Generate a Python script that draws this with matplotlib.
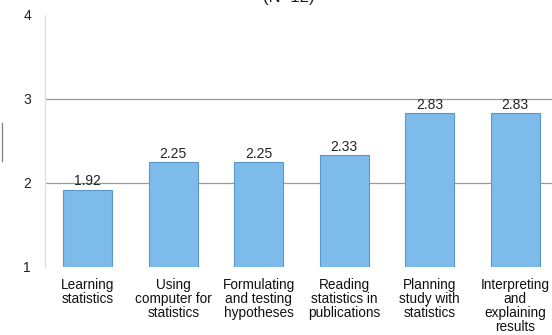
import matplotlib
matplotlib.use('Agg')
from matplotlib import pyplot as plt
from matplotlib.lines import Line2D

# ---------------------------- Data ----------------------------
categories = ['Learning\nstatistics',
              'Using\ncomputer for\nstatistics',
              'Formulating\nand testing\nhypotheses',
              'Reading\nstatistics in\npublications',
              'Planning\nstudy with\nstatistics',
              'Interpreting\nand\nexplaining\nresults']
means = [1.92, 2.25, 2.25, 2.33, 2.83, 2.83]
value_labels = ['1.92', '2.25', '2.25', '2.33', '2.83', '2.83']
yticks = [1, 2, 3, 4]
title = '(N=12)'
# ---------------------------------------------------------------

plt.rcParams['font.family'] = ['Liberation Sans', 'DejaVu Sans']

fig = plt.figure(figsize=(5.52, 3.35), dpi=100)
ax = fig.add_axes([45 / 552, 68 / 335, 513 / 552, 252 / 335])

x = list(range(len(categories)))
ax.bar(x, means, width=0.57, bottom=0, color='#7dbbea', edgecolor='#5b97c8', linewidth=0.8, zorder=3)

for xi, m, lab in zip(x, means, value_labels):
    ax.text(xi, m + 0.015, lab, ha='center', va='bottom', fontsize=10, color='#222222', zorder=4)

ax.set_ylim(1, 4)
ax.set_xlim(-0.5, len(categories) - 0.5)
ax.set_yticks(yticks)
ax.set_yticklabels([str(t) for t in yticks], fontsize=10, color='#222222')
ax.tick_params(axis='y', length=0, pad=10)

ax.set_xticks(x)
ax.set_xticklabels(categories, fontsize=9.8, color='#111111', linespacing=1.0)
ax.tick_params(axis='x', length=0, pad=8)

# only gridlines at 2 and 3
for g in [2, 3]:
    ax.axhline(g, color='#9a9a9a', linewidth=0.9, zorder=1)

for side in ['top', 'right', 'bottom']:
    ax.spines[side].set_visible(False)
ax.spines['left'].set_color('#dddddd')
ax.spines['left'].set_linewidth(0.9)

# title, mostly cut off at the top of the picture
fig.text(289 / 552, 1 - 2 / 335, title, ha='center', va='baseline', fontsize=12, color='#222222')

# stray line fragment at the left edge
fig.add_artist(Line2D([2 / 552, 2 / 552], [1 - 123 / 335, 1 - 161 / 335], color='#888888', linewidth=1))

fig.savefig('out.png', dpi=100)
